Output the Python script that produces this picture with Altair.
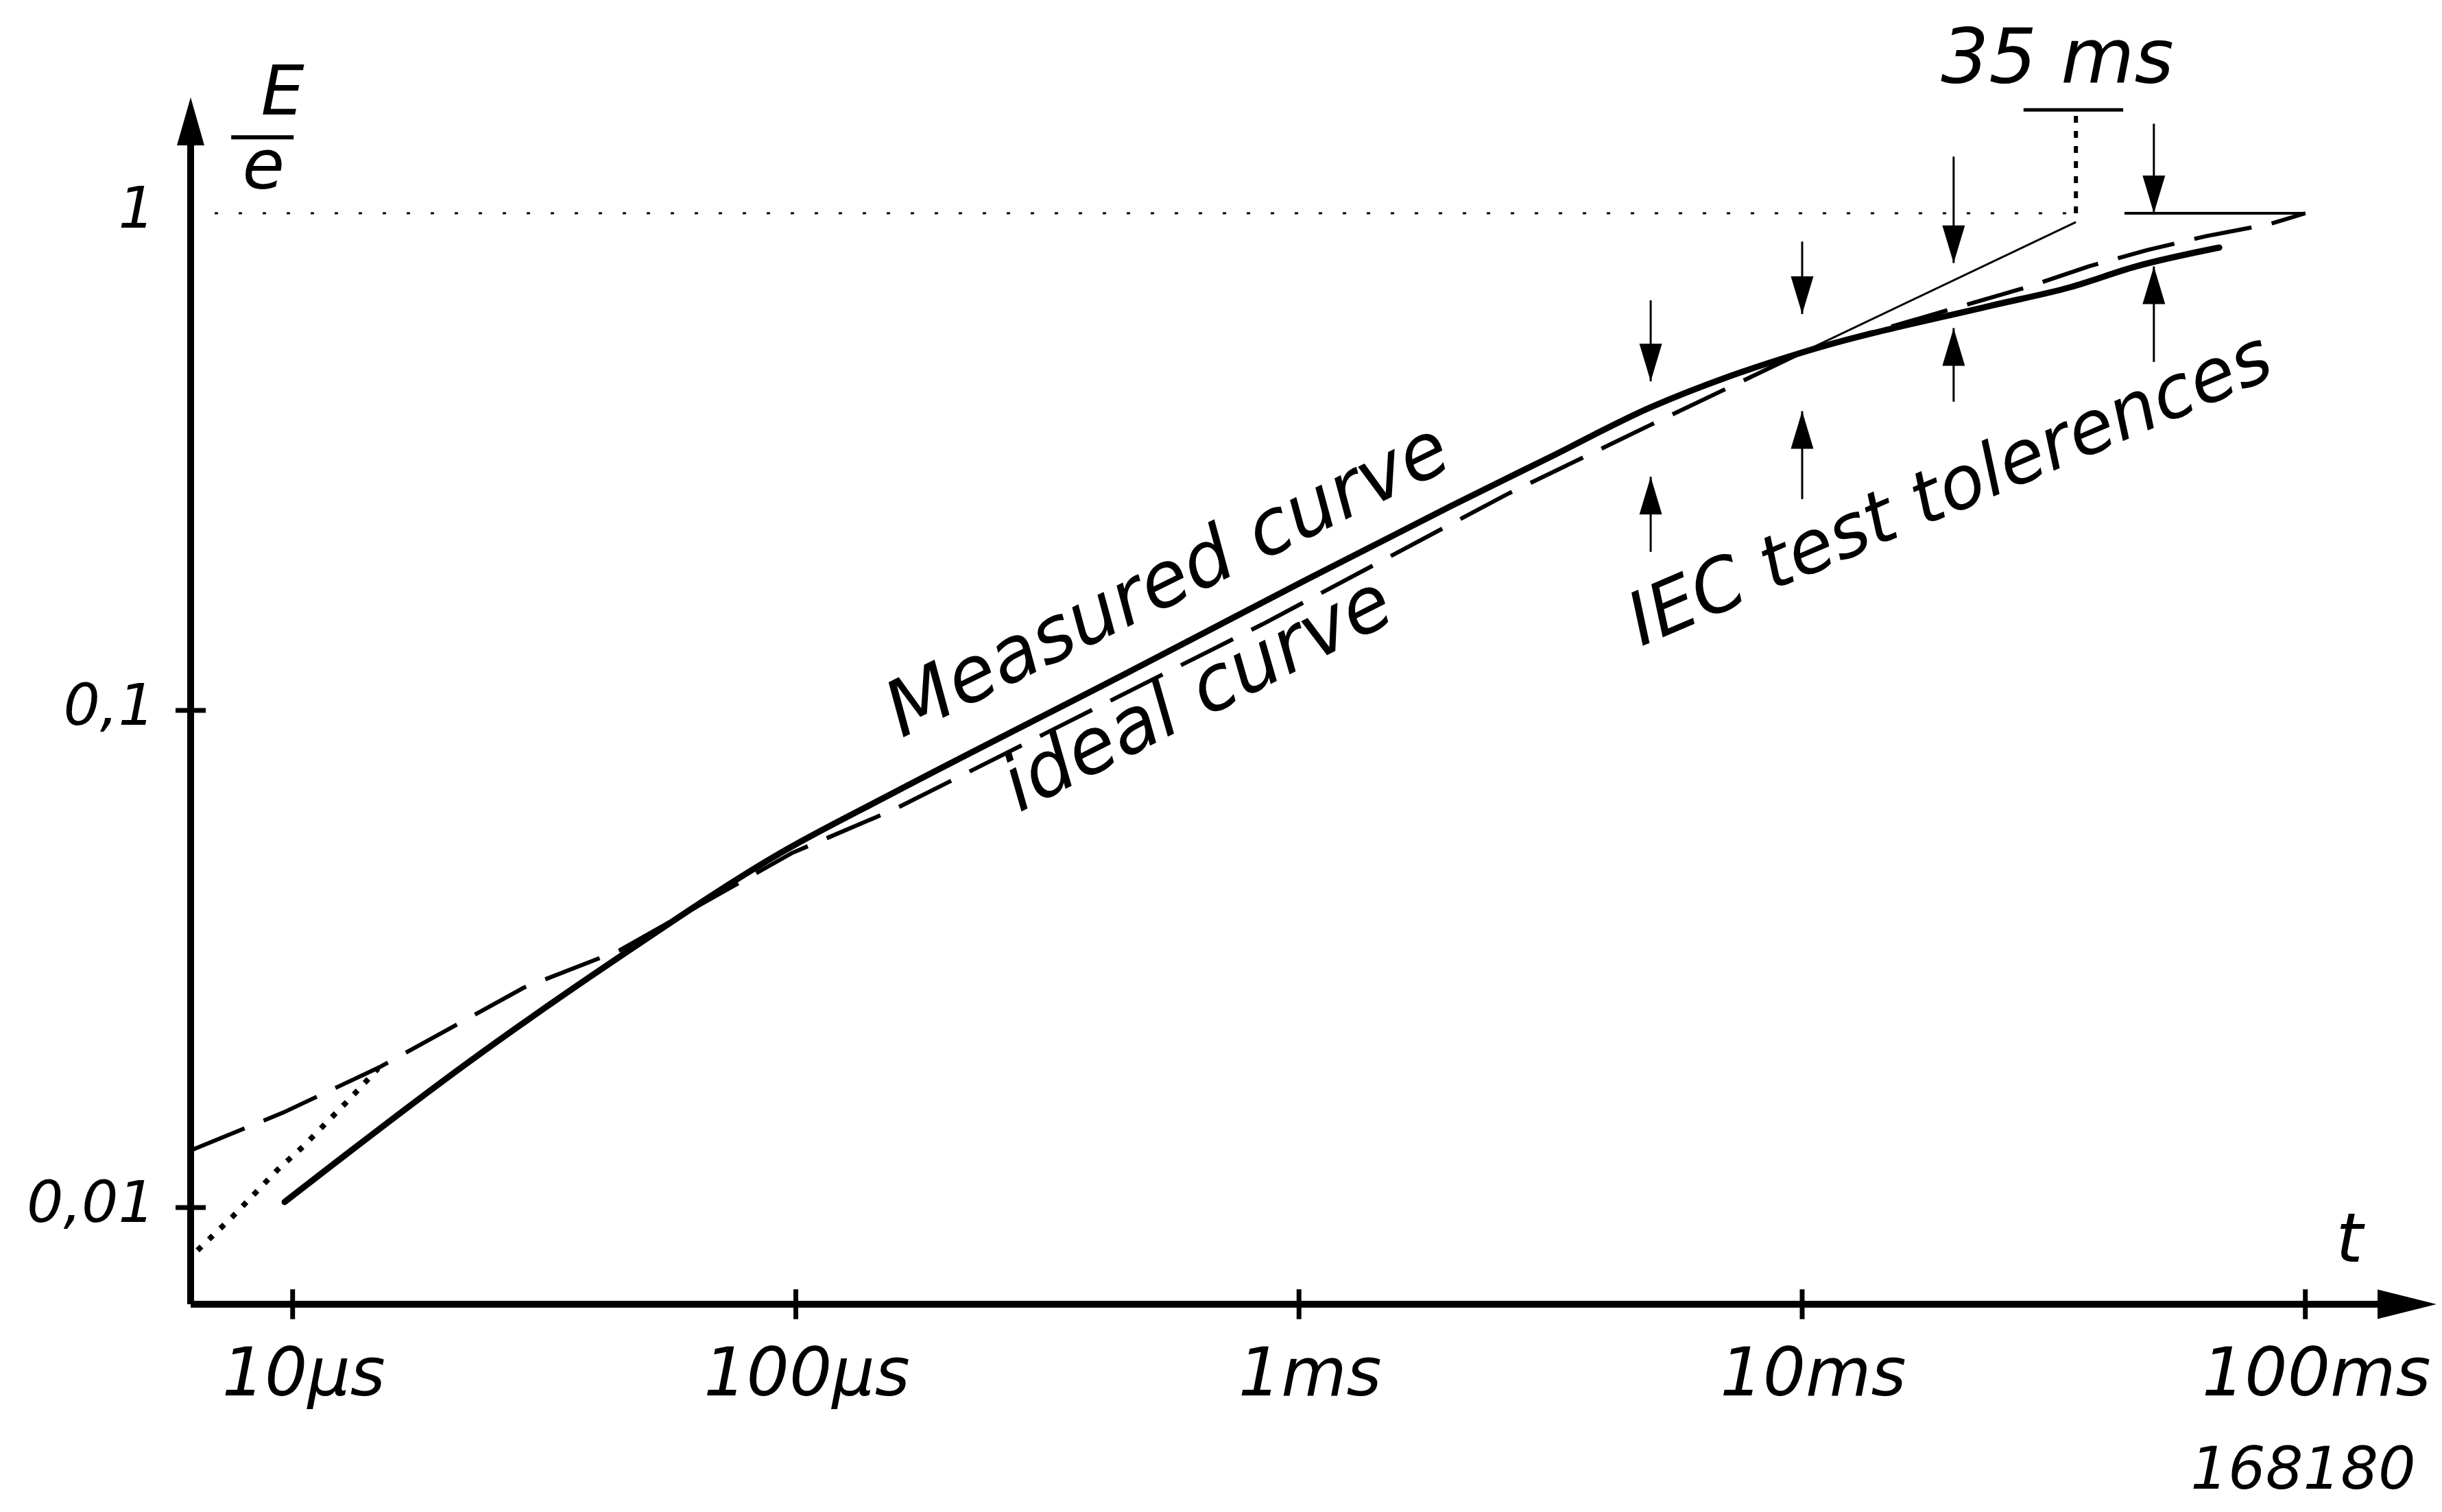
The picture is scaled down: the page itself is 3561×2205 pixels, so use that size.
import altair as alt
import pandas as pd

# ---------------- values ----------------
tick_t = [1e-5, 1e-4, 1e-3, 1e-2, 1e-1]
tick_t_labels = ["10µs", "100µs", "1ms", "10ms", "100ms"]
tick_e = [0.01, 0.1]
label_e = [0.01, 0.1, 1.0]
label_e_text = ["0,01", "0,1", "1"]

measured_t = [9.64e-6, 2.312e-5, 4.477e-5, 9.462e-5, 1.549e-4, 4.446e-4, 1.0e-3,
              1.995e-3, 3.162e-3, 5.012e-3, 7.079e-3, 1.0e-2, 2.371e-2, 3.404e-2, 4.603e-2, 6.745e-2]
measured_e = [0.01026, 0.02009, 0.03199, 0.05212, 0.06792, 0.1175, 0.1799,
              0.2570, 0.3236, 0.4074, 0.4677, 0.5248, 0.6516, 0.7096, 0.7816, 0.8531]

ideal_t = [6.27e-6, 9.57e-6, 1.486e-5, 2.877e-5, 4.477e-5, 9.817e-5, 1.563e-4, 8.492e-4,
           2.594e-3, 5.012e-3, 1.0e-2, 2.812e-2, 3.707e-2, 4.853e-2, 6.353e-2, 8.472e-2, 0.1]
ideal_e = [0.01303, 0.01552, 0.01914, 0.02767, 0.03296, 0.05164, 0.0631, 0.1493,
           0.2723, 0.3758, 0.5248, 0.7112, 0.7816, 0.8433, 0.8995, 0.9506, 1.0]

dotted_t = [6.471e-6, 7.568e-6, 9.333e-6, 1.047e-5, 1.303e-5, 1.479e-5]
dotted_e = [0.008204, 0.00955, 0.01191, 0.01324, 0.0166, 0.01905]

tangent_t = [0.01, 0.035]
tangent_e = [0.5248, 0.96]
limit_t = [0.0437, 0.1]
limit_e = [1.0, 1.0]

tol_t = [0.005, 0.01, 0.02, 0.05]
tol_down_top = [0.668, 0.877, 1.300, 1.514]
tol_down_tip = [0.459, 0.627, 0.794, 1.0]
tol_up_tail = [0.2084, 0.2661, 0.4178, 0.5023]
tol_up_tip = [0.2951, 0.3999, 0.5875, 0.7816]

mark35_t = 0.035
mark35_e = 1.614
mark35_bar_t = [0.02754, 0.04345]

# axis extent (y-axis at left, x-axis at bottom, arrow tips at the ends)
T_MIN, T_MAX = 10 ** -5.2027, 10 ** -0.7393
E_MIN, E_MAX = 10 ** -2.1945, 10 ** 0.2331

# annotation anchors (data coordinates)
txt_measured = ("Measured curve", 5.754e-4, 0.1652)
txt_ideal = ("ideal curve", 6.607e-4, 0.0975)
txt_iec = ("IEC test tolerences", 0.02051, 0.2518)
txt_35 = ("35 ms", 0.03214, 2.035)
txt_t = ("t", 0.1224, 0.00855)
txt_num = ("168180", 0.0990, 0.00295)
txt_E = ("E", 9.55e-6, 1.736)
txt_e = ("e", 8.75e-6, 1.232)
frac_t = [7.55e-6, 1.0046e-5]
frac_e = 1.421

# ---------------- chart ----------------
xs = alt.Scale(type="log", domain=[T_MIN, T_MAX], nice=False, zero=False)
ys = alt.Scale(type="log", domain=[E_MIN, E_MAX], nice=False, zero=False)
X = alt.X("t:Q", scale=xs, axis=None)
Y = alt.Y("e:Q", scale=ys, axis=None)
FONT = "DejaVu Sans"
K = "black"


def line(t, e, **kw):
    return alt.Chart(pd.DataFrame({"t": t, "e": e})).mark_line(color=K, **kw).encode(x=X, y=Y)


def rules(t, t2, e, e2, **kw):
    df = pd.DataFrame({"t": t, "t2": t2, "e": e, "e2": e2})
    return alt.Chart(df).mark_rule(color=K, **kw).encode(x=X, x2="t2:Q", y=Y, y2="e2:Q")


def heads(t, e, shape, size):
    return alt.Chart(pd.DataFrame({"t": t, "e": e})).mark_point(
        shape=shape, size=size, filled=True, color=K, opacity=1, strokeWidth=0
    ).encode(x=X, y=Y)


def text(item, size, **kw):
    s, t, e = item
    return alt.Chart(pd.DataFrame({"t": [t], "e": [e], "s": [s]})).mark_text(
        font=FONT, fontStyle="italic", fontSize=size, color=K, **kw
    ).encode(x=X, y=Y, text="s:N")


tk = 10 ** 0.03
layers = []

# dotted guide line at E/e = 1
layers.append(line([T_MIN, mark35_t], [1.0, 1.0], strokeWidth=3, strokeDash=[5, 30]))

# axes
layers.append(rules([T_MIN], [T_MAX / 10 ** 0.08], [E_MIN], [E_MIN], strokeWidth=10))
layers.append(rules([T_MIN], [T_MIN], [E_MIN], [E_MAX / 10 ** 0.06], strokeWidth=10))
layers.append(heads([T_MAX], [E_MIN], "M0,0L-1,-0.25L-1,0.25Z", 29584))
layers.append(heads([T_MIN], [E_MAX], "M0,0L0.2857,1L-0.2857,1Z", 19600))

# ticks
layers.append(rules(tick_t, tick_t,
                    [E_MIN / tk] * len(tick_t), [E_MIN * tk] * len(tick_t), strokeWidth=7))
layers.append(rules([T_MIN / tk] * len(tick_e), [T_MIN * tk] * len(tick_e),
                    tick_e, tick_e, strokeWidth=7))

# tick labels
df_xl = pd.DataFrame({"t": tick_t, "e": [E_MIN] * len(tick_t), "s": tick_t_labels})
layers.append(alt.Chart(df_xl).mark_text(font=FONT, fontStyle="italic", fontSize=98, color=K,
                                         align="center", baseline="alphabetic", dx=16, dy=133)
              .encode(x=X, y=Y, text="s:N"))
df_yl = pd.DataFrame({"t": [T_MIN] * len(label_e), "e": label_e, "s": label_e_text})
layers.append(alt.Chart(df_yl).mark_text(font=FONT, fontStyle="italic", fontSize=84, color=K,
                                         align="right", baseline="middle", dx=-52, dy=-4)
              .encode(x=X, y=Y, text="s:N"))

# curves
layers.append(line(dotted_t, dotted_e, strokeWidth=8, strokeDash=[8, 15]))
layers.append(line(ideal_t, ideal_e, strokeWidth=6, strokeDash=[85, 30]))
layers.append(line(measured_t, measured_e, strokeWidth=9, strokeCap="round", interpolate="monotone"))
layers.append(line(tangent_t, tangent_e, strokeWidth=3))
layers.append(line(limit_t, limit_e, strokeWidth=4))

# 35 ms marker
layers.append(rules([mark35_bar_t[0]], [mark35_bar_t[1]], [mark35_e], [mark35_e], strokeWidth=5))
layers.append(rules([mark35_t], [mark35_t], [1.0], [mark35_e], strokeWidth=6, strokeDash=[10, 12]))

# tolerance arrows
layers.append(rules(tol_t, tol_t, tol_down_top, tol_down_tip, strokeWidth=3))
layers.append(heads(tol_t, tol_down_tip, "M0,0L-0.3,-1L0.3,-1Z", 12100))
layers.append(rules(tol_t, tol_t, tol_up_tail, tol_up_tip, strokeWidth=3))
layers.append(heads(tol_t, tol_up_tip, "M0,0L-0.3,1L0.3,1Z", 12100))

# texts
layers.append(text(txt_measured, 112, align="center", baseline="alphabetic", angle=333.8))
layers.append(text(txt_ideal, 112, align="center", baseline="alphabetic", angle=332.9))
layers.append(text(txt_iec, 107, align="center", baseline="alphabetic", angle=336.9))
layers.append(text(txt_35, 110, align="center", baseline="middle"))
layers.append(text(txt_t, 100, align="center", baseline="middle"))
layers.append(text(txt_num, 86, align="center", baseline="middle", fontWeight=300))
layers.append(text(txt_E, 100, align="center", baseline="middle"))
layers.append(text(txt_e, 100, align="center", baseline="middle"))
layers.append(rules([frac_t[0]], [frac_t[1]], [frac_e], [frac_e], strokeWidth=6))

chart = alt.layer(*layers).properties(
    width=3275,
    height=1760,
    padding={"left": 270, "top": 134, "right": 0, "bottom": 300},
    autosize=alt.AutoSizeParams(type="none"),
    background="white",
).configure_view(strokeWidth=0)

chart.save("out.html", embed_options={"renderer": "svg", "actions": False})
